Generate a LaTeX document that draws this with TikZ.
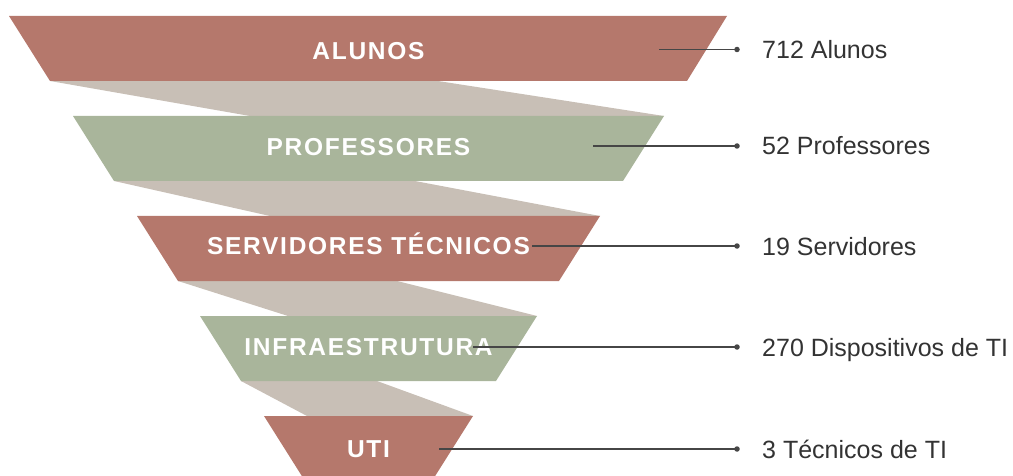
\documentclass[tikz,border=0pt]{standalone}
\usepackage{fontspec}
\setmainfont{Liberation Sans}
\newfontfamily\bandfont{Liberation Sans}[LetterSpace=7]
\definecolor{bandred}{RGB}{181,120,108}
\definecolor{bandgreen}{RGB}{169,181,155}
\definecolor{ribbon}{RGB}{200,191,182}
\definecolor{txt}{RGB}{51,51,51}
\definecolor{leader}{RGB}{70,70,70}
\begin{document}
\begin{tikzpicture}[x=1pt,y=-1pt,
  bandlabel/.style={text=white,font=\bandfont\bfseries\fontsize{24.5}{29}\selectfont,inner sep=0pt,anchor=base},
  valuelabel/.style={text=txt,font=\fontsize{25}{30}\selectfont,anchor=base west,inner sep=0pt},
  leaderline/.style={draw=leader,line width=1.4pt},
  dotmark/.style={circle,fill=leader,inner sep=0pt,minimum size=5.5pt},
]
\useasboundingbox (0,0) rectangle (1013,476);
\clip (0,0) rectangle (1013,476);
% ribbons
\fill[ribbon] (50,81) -- (438,81) -- (664,116) -- (250,116) -- cycle;
\fill[ribbon] (114,181) -- (415,181) -- (600,216) -- (270,216) -- cycle;
\fill[ribbon] (178,281) -- (397,281) -- (537,316) -- (288,316) -- cycle;
\fill[ribbon] (241,381) -- (377,381) -- (473,416) -- (307,416) -- cycle;
% bands
\fill[bandred]   (9,16)    -- (727,16)  -- (687,81)  -- (50,81)  -- cycle;
\fill[bandgreen] (73,116)  -- (664,116) -- (623,181) -- (114,181) -- cycle;
\fill[bandred]   (137,216) -- (600,216) -- (559,281) -- (178,281) -- cycle;
\fill[bandgreen] (200,316) -- (537,316) -- (496,381) -- (241,381) -- cycle;
\fill[bandred]   (264,416) -- (473,416) -- (432,481) -- (305,481) -- cycle;
% band labels
\node[bandlabel] (l1) at (368.5,59.3) {ALUNOS};
\node[bandlabel] (l2) at (368.5,155.8) {PROFESSORES};
\node[bandlabel] (l3) at (368.5,254.8) {SERVIDORES TÉCNICOS};
\node[bandlabel] (l4) at (368.5,355.3) {INFRAESTRUTURA};
\node[bandlabel] (l5) at (368.5,457.3) {UTI};
% leader starts
\coordinate (s1) at (659,49.5);
\coordinate (s2) at (593,146);
\coordinate (s3) at (532,246);
\coordinate (s4) at (473,347);
\coordinate (s5) at (439,449);
% dots
\node[dotmark] (d1) at (737,49.5) {};
\node[dotmark] (d2) at (737,146) {};
\node[dotmark] (d3) at (737,246) {};
\node[dotmark] (d4) at (737,347) {};
\node[dotmark] (d5) at (737,449) {};
% leaders
\draw[leaderline] (s1) -- (d1.center);
\draw[leaderline] (s2) -- (d2.center);
\draw[leaderline] (s3) -- (d3.center);
\draw[leaderline] (s4) -- (d4.center);
\draw[leaderline] (s5) -- (d5.center);
% value labels
\node[valuelabel] (v1) at (762,58.5) {712 Alunos};
\node[valuelabel] (v2) at (762,155) {52 Professores};
\node[valuelabel] (v3) at (762,255) {19 Servidores};
\node[valuelabel] (v4) at (762,356) {270 Dispositivos de TI};
\node[valuelabel] (v5) at (762,458) {3 Técnicos de TI};
\end{tikzpicture}
\end{document}
